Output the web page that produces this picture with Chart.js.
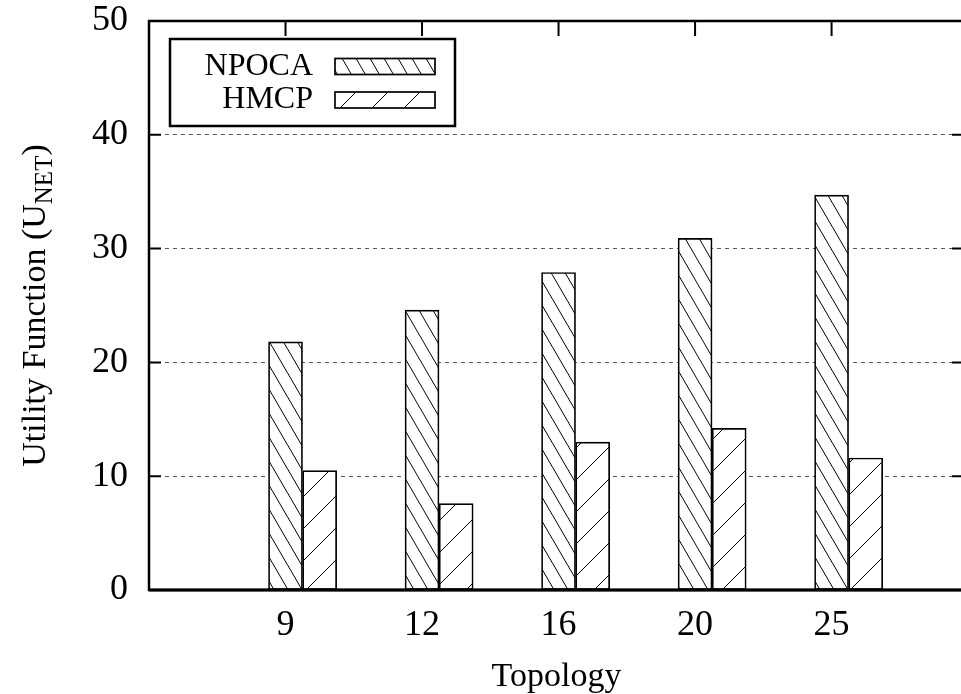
<!DOCTYPE html>
<html>
<head>
<meta charset="utf-8">
<script src="https://cdn.jsdelivr.net/npm/chart.js@4.4.0/dist/chart.umd.min.js"></script>
<style>
  html, body { margin: 0; padding: 0; background: #fff; overflow: hidden; }
  #wrap { width: 961px; height: 694px; overflow: hidden; }
</style>
</head>
<body>
<div id="wrap"><canvas id="chart" width="980" height="698"></canvas></div>
<script>
const topology = ['9', '12', '16', '20', '25'];
const npoca = [21.8, 24.6, 27.9, 30.9, 34.7];
const hmcp = [10.5, 7.6, 13.0, 14.2, 11.6];
const yTicks = [0, 10, 20, 30, 40, 50];

const FONT = "'Liberation Serif', 'Times New Roman', serif";
const HMCP_SHIFT = 0.25; // second bar of a cluster sits one bar width right of the tick

let canvas = document.getElementById('chart');
let ctx = canvas.getContext('2d');

// hatch fill on white, back = "\" lines, otherwise "/"
function hatch(w, h, back) {
  let c = document.createElement('canvas');
  c.width = w; c.height = h;
  let g = c.getContext('2d');
  g.fillStyle = '#fff';
  g.fillRect(0, 0, w, h);
  g.strokeStyle = '#000';
  g.lineWidth = 1;
  for (let k = -1; k <= 1; k++) {
    g.beginPath();
    if (back) { g.moveTo(k * w, 0); g.lineTo(k * w + w, h); }
    else { g.moveTo(k * w, h); g.lineTo(k * w + w, 0); }
    g.stroke();
  }
  return ctx.createPattern(c, 'repeat');
}

const frame = {
  id: 'frame',
  afterDatasetsDraw(chart) {
    const {ctx, chartArea: a, scales: {x, y}} = chart;
    ctx.save();
    ctx.strokeStyle = '#000';
    ctx.lineWidth = 2;
    ctx.beginPath();
    yTicks.forEach(v => {
      let py = y.getPixelForValue(v);
      ctx.moveTo(a.left, py); ctx.lineTo(a.left + 12, py);
      ctx.moveTo(a.right, py); ctx.lineTo(a.right - 12, py);
    });
    topology.forEach((t, i) => {
      let px = x.getPixelForValue(i + 1);
      ctx.moveTo(px, a.top); ctx.lineTo(px, a.top + 15);
    });
    ctx.stroke();
    ctx.lineWidth = 2.5;
    ctx.strokeRect(a.left, a.top, a.right - a.left, a.bottom - a.top);
    ctx.lineWidth = 3;
    ctx.beginPath();
    ctx.moveTo(a.left, a.bottom); ctx.lineTo(a.right, a.bottom);
    ctx.stroke();
    ctx.restore();
  }
};

const key = {
  id: 'key',
  afterDraw(chart) {
    const ctx = chart.ctx;
    ctx.save();
    ctx.strokeStyle = '#000';
    ctx.lineWidth = 2.5;
    ctx.strokeRect(170, 39, 285, 87);
    ctx.font = '32px ' + FONT;
    ctx.textAlign = 'right';
    ctx.textBaseline = 'middle';
    chart.data.datasets.forEach((ds, i) => {
      let cy = 66.5 + i * 33.5;
      ctx.fillStyle = '#000';
      ctx.fillText(ds.label, 313, cy);
      ctx.fillStyle = ds.backgroundColor;
      ctx.fillRect(335, cy - 8, 100, 16);
      ctx.lineWidth = 1.7;
      ctx.strokeRect(335, cy - 8, 100, 16);
    });
    ctx.restore();
  }
};

const yTitle = {
  id: 'yTitle',
  afterDraw(chart) {
    const {ctx, chartArea: a} = chart;
    let big = '34px ' + FONT, small = '25px ' + FONT;
    let parts = [['Utility Function (U', big, 0], ['NET', small, 7], [')', big, 0]];
    ctx.save();
    let total = 0;
    parts.forEach(p => { ctx.font = p[1]; p.push(ctx.measureText(p[0]).width); total += p[3]; });
    ctx.translate(45, (a.top + a.bottom) / 2);
    ctx.rotate(-Math.PI / 2);
    ctx.fillStyle = '#000';
    ctx.textAlign = 'left';
    ctx.textBaseline = 'alphabetic';
    let x0 = -total / 2;
    parts.forEach(p => { ctx.font = p[1]; ctx.fillText(p[0], x0, p[2]); x0 += p[3]; });
    ctx.restore();
  }
};

new Chart(ctx, {
  type: 'bar',
  data: {
    datasets: [
      { label: 'NPOCA', data: npoca.map((v, i) => ({x: i + 1, y: v})), backgroundColor: hatch(14, 24, true) },
      { label: 'HMCP', data: hmcp.map((v, i) => ({x: i + 1 + HMCP_SHIFT, y: v})), backgroundColor: hatch(32, 32, false) }
    ]
  },
  options: {
    responsive: false,
    animation: false,
    events: [],
    layout: { padding: { top: 21, right: 16, left: 0, bottom: 0 } },
    datasets: {
      bar: {
        grouped: false,
        barPercentage: 1,
        categoryPercentage: 1,
        maxBarThickness: 34,
        borderColor: '#000',
        borderWidth: 1.7,
        borderSkipped: false
      }
    },
    plugins: {
      legend: { display: false },
      tooltip: { enabled: false }
    },
    scales: {
      x: {
        type: 'linear',
        min: 0,
        max: 5.97,
        offset: false,
        afterBuildTicks: s => { s.ticks = topology.map((t, i) => ({value: i + 1})); },
        afterFit: s => { s.height = 108; s.paddingLeft = 0; s.paddingRight = 0; },
        grid: { display: false, offset: false },
        border: { display: false },
        ticks: {
          callback: (v, i) => topology[i],
          font: { family: FONT, size: 36 },
          color: '#000',
          padding: 6,
          maxRotation: 0,
          autoSkip: false
        },
        title: {
          display: true,
          text: 'Topology',
          font: { family: FONT, size: 34 },
          color: '#000',
          padding: { top: 0, bottom: 1 }
        }
      },
      y: {
        min: 0,
        max: 50,
        afterBuildTicks: s => { s.ticks = yTicks.map(v => ({value: v})); },
        afterFit: s => { s.width = 149; s.paddingTop = 0; s.paddingBottom = 0; },
        grid: { color: '#555', lineWidth: 1, drawTicks: false },
        border: { display: false, dash: [4, 4] },
        ticks: {
          font: { family: FONT, size: 36 },
          color: '#000',
          padding: 21
        }
      }
    }
  },
  plugins: [frame, key, yTitle]
});
</script>
</body>
</html>
